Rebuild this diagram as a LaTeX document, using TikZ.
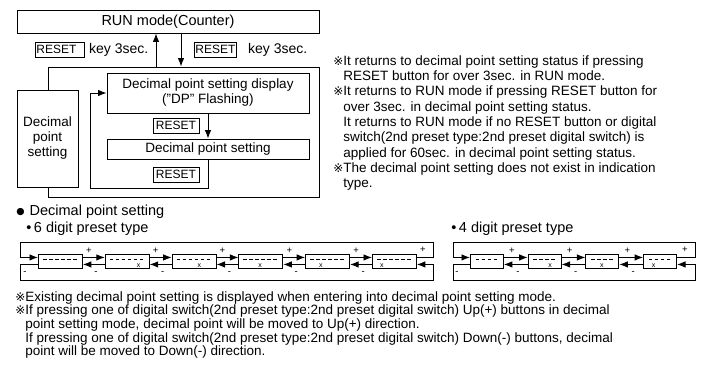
\documentclass[tikz,border=0pt]{standalone}
\usepackage{fontspec}
\setmainfont{Liberation Sans}
\newfontfamily\markfont{DejaVu Sans}
\usetikzlibrary{arrows.meta,positioning}

\newcommand{\refmk}{\makebox[10pt][l]{\markfont\fontsize{12}{12}\selectfont ※}}
\newcommand{\indt}{\hspace*{10pt}}

\begin{document}
\begin{tikzpicture}[x=1pt, y=-1pt, font=\fontsize{13.5}{15}\selectfont,
    line width=0.9pt,
    box/.style={draw, fill=white, inner sep=0pt, align=center},
    keybox/.style={draw, line width=0.7pt, inner sep=1pt, minimum height=15pt, font=\fontsize{12}{12}\selectfont},
    cell/.style={draw, fill=white, minimum height=14pt, inner sep=0pt},
    arr/.style={-{Latex[length=8.5pt,width=6.5pt]}},
    sgn/.style={inner sep=0pt, font=\fontsize{9.5}{9.5}\selectfont},
    note/.style={anchor=north west, inner sep=0pt, align=left}]
  \useasboundingbox (0,0) rectangle (704,369);

  % run mode and the setting loop
  \node[box, minimum width=302pt, minimum height=23pt, font=\fontsize{14.5}{15}\selectfont] (run) at (168,21.5) {RUN mode(Counter)};
  \node[draw, minimum width=271pt, minimum height=130pt, inner sep=0pt] (frame) at (183.5,132) {};
  \node[box, minimum width=61pt, minimum height=97pt] (dpleft) at (47.5,138.5) {Decimal\\point\\setting};
  \node[box, minimum width=202pt, minimum height=40pt] (dpdisp) at (208,93) {Decimal point setting display\\("DP" Flashing)};
  \node[box, minimum width=202pt, minimum height=20pt] (dpset) at (208,149) {Decimal point setting};

  \node[keybox, anchor=west, minimum width=47pt] (key1) at (35,49.5) {RESET\hspace*{7pt}};
  \node[right=4pt of key1, inner sep=0pt, font=\fontsize{14}{15}\selectfont] (key1t) {key 3sec.};
  \node[keybox, anchor=west, minimum width=38pt] (key2) at (194,49.5) {RESET};
  \node[right=11pt of key2, inner sep=0pt, font=\fontsize{14}{15}\selectfont] (key2t) {key 3sec.};

  \coordinate (upx) at (156,0);
  \coordinate (dnx) at (181,0);
  \draw[arr] (frame.north -| upx) -- (run.south -| upx);
  \draw[arr] (run.south -| dnx) -- (frame.north -| dnx);

  \draw[arr] (dpdisp) -- (dpset);
  \node[keybox, minimum width=46pt] (key3) at (176,125.5) {RESET};
  \node[keybox, minimum width=46pt] (key4) at (176,174.5) {RESET};
  \coordinate (loopc) at (90,188);
  \draw[arr] (dpset.south) |- (loopc) |- (dpdisp.west);

  % notes
  \node[note, font=\fontsize{13.5}{15.3}\selectfont] (notes) at (333,55) {%
    \refmk It returns to decimal point setting status if pressing\\
    \indt RESET button for over 3sec. in RUN mode.\\
    \refmk It returns to RUN mode if pressing RESET button for\\
    \indt over 3sec. in decimal point setting status.\\
    \indt It returns to RUN mode if no RESET button or digital\\
    \indt switch(2nd preset type:2nd preset digital switch) is\\
    \indt applied for 60sec. in decimal point setting status.\\
    \refmk The decimal point setting does not exist in indication\\
    \indt type.};

  % decimal point setting chains
  \node[anchor=west, inner sep=0pt, font=\markfont\fontsize{9.5}{9.5}\selectfont] (blt) at (16,212) {●};
  \node[right=4pt of blt, inner sep=0pt, font=\fontsize{14.5}{15}\selectfont] (dphead) {Decimal point setting};
  \node[anchor=west, inner sep=0pt, font=\fontsize{14.5}{15}\selectfont] (six) at (26,229) {•\,6 digit preset type};
  \node[anchor=west, inner sep=0pt, font=\fontsize{14.5}{15}\selectfont] (four) at (451,229) {•\,4 digit preset type};

  \foreach \i in {1,...,6} {
    \pgfmathsetmacro{\xl}{38+(\i-1)*66.8}
    \node[cell, minimum width=44pt, anchor=north west] (s\i) at (\xl,254) {};
    \draw[line width=1pt, dash pattern=on 3.5pt off 2.5pt] (\xl+5,259) -- (\xl+38.5,259);
  }
  \foreach \i/\k in {2/5,3/4,4/3,5/2,6/1}
    \node[inner sep=0pt, font=\fontsize{7}{7}\selectfont] at ({38+(\i-1)*66.8+3.75+\k*6},265.5) {x};
  \foreach \i [evaluate=\i as \j using int(\i+1)] in {1,...,5} {
    \draw[arr] ([yshift=4pt]s\i.east) -- ([yshift=4pt]s\j.west);
    \draw[arr] ([yshift=-3pt]s\j.west) -- ([yshift=-3pt]s\i.east);
    \node[sgn] at ([xshift=6pt, yshift=11pt]s\i.east) {+};
    \node[sgn] at ([xshift=13pt, yshift=-12pt]s\i.east) {-};
  }
  \coordinate (sixtr) at (433,242);
  \coordinate (sixtl) at (20,242);
  \coordinate (sixbr) at (433,280);
  \coordinate (sixbl) at (20,280);
  \draw[arr] ([yshift=4pt]s6.east) -| (sixtr) -| (sixtl) |- ([yshift=4pt]s1.west);
  \draw[arr] ([yshift=-3pt]s1.west) -| (sixbl) -| (sixbr) |- ([yshift=-3pt]s6.east);
  \node[sgn] at (423,250) {+};
  \node[sgn] at (25,273) {-};

  \foreach \i in {1,...,4} {
    \pgfmathsetmacro{\xl}{470+(\i-1)*57.7}
    \node[cell, minimum width=33pt, anchor=north west] (f\i) at (\xl,254) {};
    \draw[line width=1pt, dash pattern=on 3.5pt off 2.5pt] (\xl+5.75,259) -- (\xl+27.25,259);
  }
  \foreach \i/\k in {2/3,3/2,4/1}
    \node[inner sep=0pt, font=\fontsize{7}{7}\selectfont] at ({470+(\i-1)*57.7+4.5+\k*6},265.5) {x};
  \foreach \i [evaluate=\i as \j using int(\i+1)] in {1,...,3} {
    \draw[arr] ([yshift=4pt]f\i.east) -- ([yshift=4pt]f\j.west);
    \draw[arr] ([yshift=-3pt]f\j.west) -- ([yshift=-3pt]f\i.east);
    \node[sgn] at ([xshift=8pt, yshift=11pt]f\i.east) {+};
    \node[sgn] at ([xshift=14pt, yshift=-12pt]f\i.east) {-};
  }
  \coordinate (fourtr) at (695,242);
  \coordinate (fourtl) at (453,242);
  \coordinate (fourbr) at (695,280);
  \coordinate (fourbl) at (453,280);
  \draw[arr] ([yshift=4pt]f4.east) -| (fourtr) -| (fourtl) |- ([yshift=4pt]f1.west);
  \draw[arr] ([yshift=-3pt]f1.west) -| (fourbl) -| (fourbr) |- ([yshift=-3pt]f4.east);
  \node[sgn] at (685,250) {+};
  \node[sgn] at (457,273) {-};

  % footnotes
  \node[note, font=\fontsize{13.5}{13.6}\selectfont] (foot) at (15,291) {%
    \refmk Existing decimal point setting is displayed when entering into decimal point setting mode.\\
    \refmk If pressing one of digital switch(2nd preset type:2nd preset digital switch) Up(+) buttons in decimal\\
    \indt point setting mode, decimal point will be moved to Up(+) direction.\\
    \indt If pressing one of digital switch(2nd preset type:2nd preset digital switch) Down(-) buttons, decimal\\
    \indt point will be moved to Down(-) direction.};
\end{tikzpicture}
\end{document}
